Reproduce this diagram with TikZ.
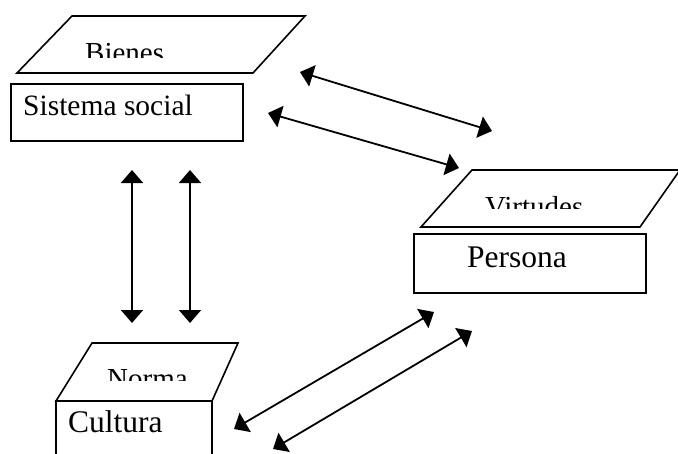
\documentclass[tikz,border=0pt]{standalone}
\usepackage{fontspec}
\setmainfont{Liberation Serif}
\usetikzlibrary{arrows.meta}
\begin{document}
\begin{tikzpicture}[x=1pt,y=-1pt,
  facet/.style={draw=black,line width=1.6pt,line join=miter},
  boxframe/.style={draw=black,line width=2pt,inner sep=0pt},
  lbl/.style={anchor=base west,inner sep=0pt,font=\fontsize{29}{29}\selectfont},
  biglbl/.style={anchor=base west,inner sep=0pt,font=\fontsize{31.5}{31.5}\selectfont},
  link/.style={line width=1.8pt,{Triangle[length=13pt,width=22pt]}-{Triangle[length=13pt,width=22pt]}}]
\useasboundingbox (0,0) rectangle (678,453);

% --- Sistema social with its top face "Bienes"
\draw[facet] (17,73) -- (72,16) -- (305,16) -- (253,73) -- cycle;
\begin{scope}
  \clip (60,20) rectangle (260,57);
  \node[lbl] (bienes) at (85,62) {Bienes};
\end{scope}
\node[boxframe,minimum width=232pt,minimum height=57pt] (sistema) at (127,112.5) {};
\node[lbl,font=\fontsize{29.5}{29.5}\selectfont] (sistematxt) at (23,115) {Sistema social};

% --- Persona with its top face "Virtudes"
\draw[facet] (421,227) -- (472,170) -- (680,170) -- (640,227) -- cycle;
\begin{scope}
  \clip (440,175) rectangle (640,208);
  \node[lbl] (virtudes) at (485,216) {Virtudes};
\end{scope}
\node[boxframe,minimum width=232pt,minimum height=59pt] (persona) at (530,263.5) {};
\node[biglbl] (personatxt) at (467,267) {Persona};

% --- Cultura with its top face "Norma"
\draw[facet] (56,401) -- (92,343) -- (238,343) -- (212,401) -- cycle;
\begin{scope}
  \clip (80,350) rectangle (220,380);
  \node[lbl] (norma) at (107,388) {Norma};
\end{scope}
\draw[boxframe] (56,455) -- (56,401) -- (212,401) -- (212,455);
\node[biglbl] (culturatxt) at (68,432) {Cultura};

% --- arrow end points
\coordinate (a1) at (300,72);  \coordinate (b1) at (492,131);
\coordinate (a2) at (268,113); \coordinate (b2) at (459,168);
\coordinate (a3) at (132,170); \coordinate (b3) at (132,323);
\coordinate (a4) at (190,170); \coordinate (b4) at (190,323);
\coordinate (a5) at (234,429); \coordinate (b5) at (434,312);
\coordinate (a6) at (273,449); \coordinate (b6) at (472,331);

\draw[link] (a1) -- (b1);
\draw[link] (a2) -- (b2);
\draw[link] (a3) -- (b3);
\draw[link] (a4) -- (b4);
\draw[link] (a5) -- (b5);
\draw[link] (a6) -- (b6);
\end{tikzpicture}
\end{document}
